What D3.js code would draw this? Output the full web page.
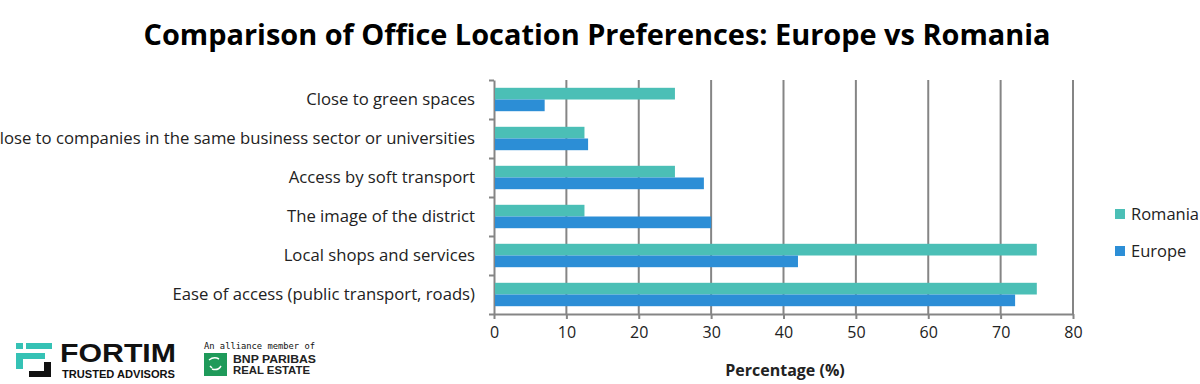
<!DOCTYPE html>
<html>
<head>
<meta charset="utf-8">
<script src="https://cdn.jsdelivr.net/npm/d3@7"></script>
<style>
  html, body { margin: 0; padding: 0; background: #fff; }
  svg { display: block; }
</style>
</head>
<body>
<svg id="chart" width="1200" height="384"></svg>
<script>
// ---- data ----
const categories = [
  "Close to green spaces",
  "Close to companies in the same business sector or universities",
  "Access by soft transport",
  "The image of the district",
  "Local shops and services",
  "Ease of access (public transport, roads)"
];
const seriesNames = ["Romania", "Europe"];
const romaniaValues = [25, 12.5, 25, 12.5, 75, 75];
const europeValues = [7, 13, 29, 30, 42, 72];
const xTicks = [0, 10, 20, 30, 40, 50, 60, 70, 80];
const titleText = "Comparison of Office Location Preferences: Europe vs Romania";
const xAxisTitle = "Percentage (%)";

// ---- styles / layout ----
const colors = { Romania: "#4BBFB6", Europe: "#2C8ED6" };
const gridColor = "#858585";
const font = "'Open Sans', sans-serif";

const svg = d3.select("#chart");
const plot = { left: 494, right: 1073, top: 80, bottom: 314 };

const x = d3.scaleLinear().domain([0, 80]).range([plot.left, plot.right]);
const y = d3.scaleBand().domain(categories).range([plot.top, plot.bottom])
  .paddingInner(0.4).paddingOuter(0.2);
const ySub = d3.scaleBand().domain(seriesNames).range([0, y.bandwidth()]);

const data = categories.map((c, i) => ({
  cat: c,
  vals: [
    { s: "Romania", v: romaniaValues[i] },
    { s: "Europe", v: europeValues[i] }
  ]
}));

// Title
svg.append("text")
  .attr("x", 597).attr("y", 45)
  .attr("text-anchor", "middle")
  .attr("font-family", font)
  .attr("font-weight", "bold")
  .attr("font-size", 28)
  .attr("fill", "#000")
  .attr("textLength", 907).attr("lengthAdjust", "spacingAndGlyphs")
  .text(titleText);

// Gridlines
svg.append("g").selectAll("line")
  .data(xTicks.filter(t => t > 0))
  .join("line")
  .attr("x1", d => x(d)).attr("x2", d => x(d))
  .attr("y1", plot.top).attr("y2", plot.bottom)
  .attr("stroke", gridColor).attr("stroke-width", 2);

// X axis
const xAxis = svg.append("g")
  .attr("transform", `translate(0,${plot.bottom})`)
  .call(d3.axisBottom(x).tickValues(xTicks).tickSize(5).tickSizeOuter(0).tickPadding(8));
xAxis.select(".domain").attr("stroke", gridColor).attr("stroke-width", 2);
xAxis.selectAll(".tick line").attr("stroke", gridColor).attr("stroke-width", 2);
xAxis.selectAll(".tick text")
  .attr("font-family", font).attr("font-size", 16).attr("fill", "#222");

// Y axis line with boundary ticks
const yBound = d3.scaleLinear().domain([0, categories.length]).range([plot.top, plot.bottom]);
const yAxis = svg.append("g").attr("transform", `translate(${plot.left},0)`)
  .call(d3.axisLeft(yBound).tickValues(d3.range(0, categories.length + 1)).tickSize(5).tickSizeOuter(0).tickFormat(""));
yAxis.select(".domain").attr("stroke", gridColor).attr("stroke-width", 2);
yAxis.selectAll(".tick line").attr("stroke", gridColor).attr("stroke-width", 2);

// Bars
const groups = svg.append("g").selectAll("g")
  .data(data).join("g")
  .attr("transform", d => `translate(0,${y(d.cat)})`);
groups.selectAll("rect")
  .data(d => d.vals).join("rect")
  .attr("x", x(0) + 1)
  .attr("y", d => ySub(d.s))
  .attr("width", d => x(d.v) - x(0) - 1)
  .attr("height", ySub.bandwidth())
  .attr("fill", d => colors[d.s]);

// Category labels
svg.append("g").selectAll("text")
  .data(categories).join("text")
  .attr("x", 475)
  .attr("y", d => y(d) + y.bandwidth() / 2)
  .attr("dy", "0.35em")
  .attr("text-anchor", "end")
  .attr("font-family", font)
  .attr("font-size", 16.7)
  .attr("fill", "#222")
  .text(d => d);

// X axis title
svg.append("text")
  .attr("x", 785).attr("y", 376)
  .attr("text-anchor", "middle")
  .attr("font-family", font)
  .attr("font-weight", "bold")
  .attr("font-size", 16)
  .attr("fill", "#222")
  .text(xAxisTitle);

// Legend
const legend = svg.append("g").selectAll("g")
  .data(seriesNames).join("g")
  .attr("transform", (d, i) => `translate(1115,${214 + i * 37})`);
legend.append("rect")
  .attr("x", 0).attr("y", -5).attr("width", 10).attr("height", 10)
  .attr("fill", d => colors[d]);
legend.append("text")
  .attr("x", 16).attr("y", 0).attr("dy", "0.35em")
  .attr("font-family", font).attr("font-size", 16.5).attr("fill", "#222")
  .text(d => d);

// Logos (approximate)
const logo = svg.append("g");
const teal = "#35C2B5";
logo.append("rect").attr("x", 16).attr("y", 343).attr("width", 7).attr("height", 6).attr("fill", teal);
logo.append("rect").attr("x", 26).attr("y", 343).attr("width", 26).attr("height", 6).attr("fill", teal);
logo.append("rect").attr("x", 16).attr("y", 353).attr("width", 29).attr("height", 6).attr("fill", teal);
logo.append("rect").attr("x", 16).attr("y", 353).attr("width", 7).attr("height", 16).attr("fill", teal);
logo.append("rect").attr("x", 44).attr("y", 362).attr("width", 7).attr("height", 15).attr("fill", "#111");
logo.append("rect").attr("x", 29).attr("y", 371).attr("width", 22).attr("height", 6).attr("fill", "#111");
logo.append("text").attr("x", 60).attr("y", 362)
  .attr("font-family", "'Liberation Sans', Arial, sans-serif").attr("font-weight", "bold").attr("font-size", 25)
  .attr("textLength", 116).attr("lengthAdjust", "spacingAndGlyphs")
  .attr("fill", "#111").text("FORTIM");
logo.append("text").attr("x", 62).attr("y", 378)
  .attr("font-family", "'Liberation Sans', Arial, sans-serif").attr("font-weight", "bold").attr("font-size", 11)
  .attr("textLength", 113).attr("lengthAdjust", "spacingAndGlyphs")
  .attr("fill", "#111").text("TRUSTED ADVISORS");
logo.append("text").attr("x", 204).attr("y", 349)
  .attr("font-family", "'DejaVu Sans Mono', monospace").attr("font-size", 8.5)
  .attr("textLength", 111).attr("lengthAdjust", "spacingAndGlyphs")
  .attr("fill", "#111").text("An alliance member of");
logo.append("rect").attr("x", 204).attr("y", 353).attr("width", 23).attr("height", 23).attr("fill", "#1F9A5A");
logo.append("path")
  .attr("d", "M209,360 q5,-4 10,-1 M221,366 q-3,5 -9,3 M210,366 l2,2")
  .attr("stroke", "#fff").attr("stroke-width", 1.5).attr("fill", "none");
logo.append("text").attr("x", 233).attr("y", 363)
  .attr("font-family", "'Liberation Sans', Arial, sans-serif").attr("font-weight", "bold").attr("font-size", 11)
  .attr("textLength", 83).attr("lengthAdjust", "spacingAndGlyphs")
  .attr("fill", "#222").text("BNP PARIBAS");
logo.append("text").attr("x", 233).attr("y", 374)
  .attr("font-family", "'Liberation Sans', Arial, sans-serif").attr("font-weight", "bold").attr("font-size", 11)
  .attr("textLength", 77).attr("lengthAdjust", "spacingAndGlyphs")
  .attr("fill", "#222").text("REAL ESTATE");
</script>
</body>
</html>
